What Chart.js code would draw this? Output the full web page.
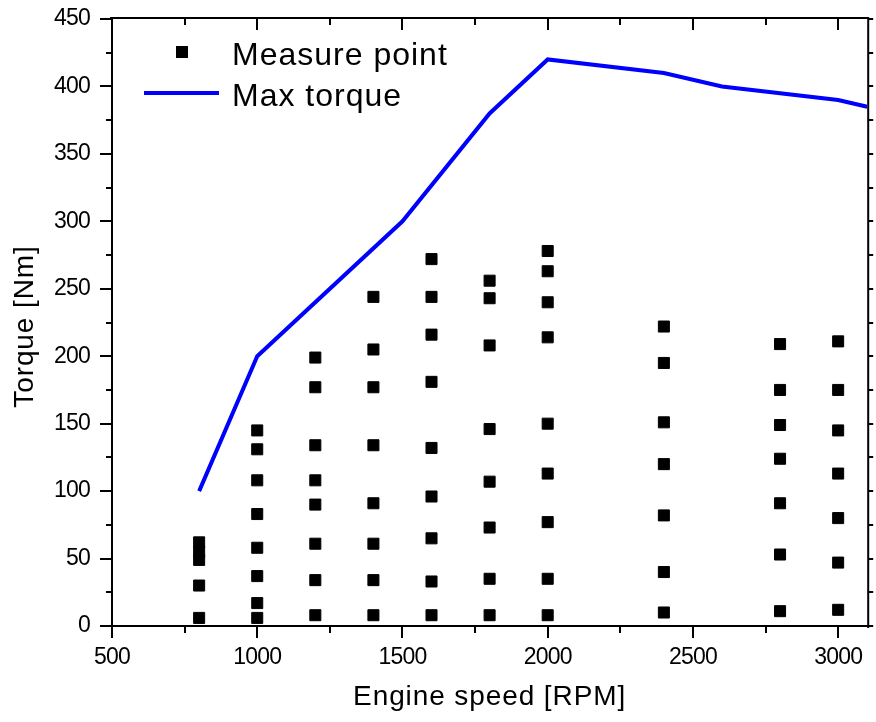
<!DOCTYPE html>
<html>
<head>
<meta charset="utf-8">
<title>Engine speed vs torque</title>
<script src="https://cdn.jsdelivr.net/npm/chart.js@4.4.1/dist/chart.umd.min.js"></script>
<style>
    html, body { margin: 0; padding: 0; background: #fff; }
    #wrap { width: 876px; height: 722px; }
</style>
</head>
<body>
<div id="wrap"><canvas id="torqueChart" width="876" height="722"></canvas></div>
<script>
// -------------------------
// Data
// -------------------------
const speeds = [800, 1000, 1200, 1400, 1600, 1800, 2000, 2400, 2800, 3000];

// measured torque values at each engine speed (same order as speeds)
const torqueBySpeed = [
    [6, 30, 49, 55, 62],
    [6, 17, 37, 58, 83, 108, 131, 145],
    [8, 34, 61, 90, 108, 134, 177, 199],
    [8, 34, 61, 91, 134, 177, 205, 244],
    [8, 33, 65, 96, 132, 181, 216, 244, 272],
    [8, 35, 73, 107, 146, 208, 243, 256],
    [8, 35, 77, 113, 150, 214, 240, 263, 278],
    [10, 40, 82, 120, 151, 195, 222],
    [11, 53, 91, 124, 149, 175, 209],
    [12, 47, 80, 113, 145, 175, 211]
];

const maxTorqueRpm = [800, 1000, 1500, 1800, 2000, 2400, 2600, 3000, 3100];
const maxTorqueNm = [100, 200, 300, 380, 420, 410, 400, 390, 385];

const xTicks = [500, 1000, 1500, 2000, 2500, 3000];
const yTicks = [0, 50, 100, 150, 200, 250, 300, 350, 400, 450];

const seriesNames = ["Measure point", "Max torque"];
const xTitle = "Engine speed [RPM]";
const yTitle = "Torque [Nm]";

// -------------------------
// Build datasets
// -------------------------
const measurePoints = [];
speeds.forEach((rpm, i) => {
    torqueBySpeed[i].forEach(t => measurePoints.push({ x: rpm, y: t }));
});

const maxLine = maxTorqueRpm.map((rpm, i) => ({ x: rpm, y: maxTorqueNm[i] }));

const tickFont = { family: "'Liberation Sans', Arial, sans-serif", size: 23 };

// frame, minor ticks, legend and axis titles
const framePlugin = {
    id: "frame",
    beforeDraw(chart) {
        // tick labels in the picture are a slightly narrow face
        chart.ctx.letterSpacing = "-0.8px";
    },
    afterDraw(chart) {
        const { ctx, chartArea: a, scales: { x, y } } = chart;
        ctx.save();
        ctx.strokeStyle = "#000";
        ctx.lineWidth = 2;

        ctx.beginPath();
        ctx.moveTo(a.left - 2, a.top - 1);
        ctx.lineTo(a.right + 2, a.top - 1);
        ctx.moveTo(a.right + 1, a.top - 2);
        ctx.lineTo(a.right + 1, a.bottom + 2);

        // x ticks: outward at bottom, inward at top
        for (let v = x.min; v <= x.max; v += 250) {
            const px = Math.round(x.getPixelForValue(v));
            const len = xTicks.includes(v) ? 11 : 6;
            ctx.moveTo(px, a.bottom + 1);
            ctx.lineTo(px, a.bottom + 1 + len);
            ctx.moveTo(px, a.top);
            ctx.lineTo(px, a.top + len);
        }

        // y ticks: outward left and right
        for (let v = y.min; v <= y.max; v += 25) {
            const py = Math.round(y.getPixelForValue(v));
            const len = yTicks.includes(v) ? 11 : 5;
            ctx.moveTo(a.left - 1, py);
            ctx.lineTo(a.left - 1 - len, py);
            ctx.moveTo(a.right + 1, py);
            ctx.lineTo(a.right + 6, py);
        }
        ctx.stroke();

        // legend
        const pts = chart.data.datasets[0];
        const line = chart.data.datasets[1];
        ctx.fillStyle = pts.backgroundColor;
        ctx.fillRect(176, 46, 12, 12);

        ctx.strokeStyle = line.borderColor;
        ctx.lineWidth = 4;
        ctx.beginPath();
        ctx.moveTo(144, 93);
        ctx.lineTo(219, 93);
        ctx.stroke();

        ctx.fillStyle = "#000";
        ctx.textBaseline = "alphabetic";
        ctx.textAlign = "left";
        ctx.letterSpacing = "1px";
        ctx.font = "32px 'Liberation Sans', Arial, sans-serif";
        ctx.fillText(pts.label, 232, 65);
        ctx.fillText(line.label, 232, 106);

        // axis titles
        ctx.letterSpacing = "0.9px";
        ctx.font = "28px 'Liberation Sans', Arial, sans-serif";
        ctx.textAlign = "center";
        ctx.fillText(xTitle, (a.left + a.right) / 2, 705);

        ctx.translate(33, (a.top + a.bottom) / 2 + 4);
        ctx.rotate(-Math.PI / 2);
        ctx.fillText(yTitle, 0, 0);

        ctx.restore();
    }
};

new Chart(document.getElementById("torqueChart"), {
    type: "scatter",
    data: {
        datasets: [
            {
                label: seriesNames[0],
                data: measurePoints,
                pointStyle: "rect",
                pointRadius: 7.8,
                pointHoverRadius: 7.8,
                backgroundColor: "#000000",
                borderColor: "#000000",
                borderWidth: 1,
                showLine: false
            },
            {
                label: seriesNames[1],
                data: maxLine,
                showLine: true,
                borderColor: "#0000FF",
                backgroundColor: "#0000FF",
                borderWidth: 4,
                pointRadius: 0,
                pointHoverRadius: 0,
                tension: 0,
                fill: false
            }
        ]
    },
    options: {
        responsive: false,
        animation: false,
        devicePixelRatio: 1,
        layout: { padding: { top: 19, right: 8, left: 0, bottom: 0 } },
        plugins: {
            legend: { display: false },
            tooltip: { enabled: false }
        },
        scales: {
            x: {
                type: "linear",
                position: "bottom",
                min: 500,
                max: 3100,
                afterFit: s => {
                    s.height = 96;
                    s.paddingLeft = 0;
                    s.paddingRight = 0;
                },
                afterBuildTicks: s => { s.ticks = xTicks.map(v => ({ value: v })); },
                ticks: { color: "#000", font: tickFont, padding: 18, maxRotation: 0, callback: v => String(v) },
                grid: { display: false, drawTicks: false },
                border: { display: true, color: "#000", width: 2 }
            },
            y: {
                type: "linear",
                min: 0,
                max: 450,
                afterFit: s => {
                    s.width = 112;
                    s.paddingTop = 0;
                    s.paddingBottom = 0;
                },
                afterBuildTicks: s => { s.ticks = yTicks.map(v => ({ value: v })); },
                ticks: { color: "#000", font: tickFont, padding: 22, callback: v => String(v) },
                grid: { display: false, drawTicks: false },
                border: { display: true, color: "#000", width: 2 }
            }
        }
    },
    plugins: [framePlugin]
});
</script>
</body>
</html>
